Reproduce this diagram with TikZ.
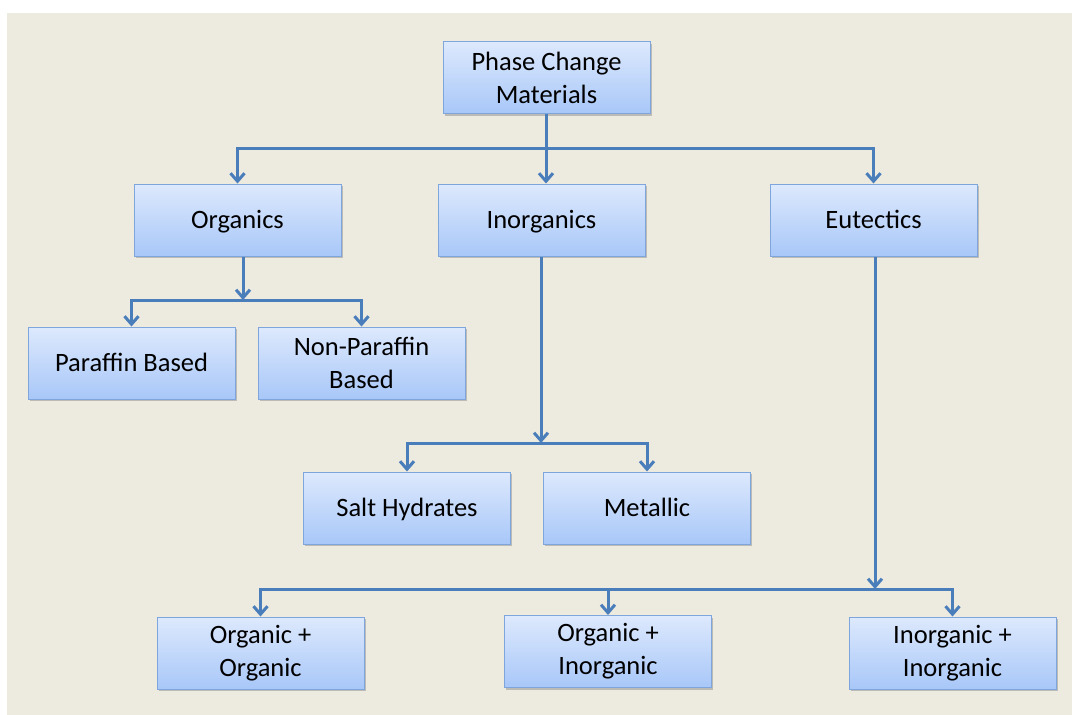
\documentclass[tikz,border=0pt]{standalone}
\usepackage{fontspec}
\setmainfont{Carlito}
\usetikzlibrary{arrows.meta,shadows}
\definecolor{bgc}{HTML}{EDEAE0}
\definecolor{linec}{HTML}{4A7EBB}
\definecolor{boxtop}{HTML}{DDE9FD}
\definecolor{boxbot}{HTML}{A8C7F8}
\definecolor{boxedge}{HTML}{7FA6DC}
\begin{document}
\begin{tikzpicture}[x=1pt,y=-1pt,
  box/.style={draw=boxedge, line width=1pt, top color=boxtop, bottom color=boxbot,
    minimum width=207pt, minimum height=72pt, inner sep=0pt, align=center,
    font=\fontsize{26.5}{33}\selectfont,
    drop shadow={shadow xshift=1.5pt, shadow yshift=-2pt, opacity=0.35, fill=black!60}},
  onebox/.style={box, text height=18pt, text depth=2pt},
  conn/.style={draw=linec, line width=3pt},
  arr/.style={conn, -{Straight Barb[length=8pt,width=14pt]}},
  both/.style={conn, {Straight Barb[length=8pt,width=14pt]}-{Straight Barb[length=8pt,width=14pt]}}
]
\useasboundingbox (0,0) rectangle (1072,715);
\fill[white] (0,0) rectangle (1072,715);
\fill[bgc] (7,13) rectangle (1072,715);

\node[box] (pcm) at (546.5,77.5) {Phase Change\\Materials};
\node[onebox] (org) at (237.5,220) {Organics};
\node[onebox] (inorg) at (541.5,220) {Inorganics};
\node[onebox] (eut) at (873.5,220) {Eutectics};
\node[onebox] (par) at (131.5,363) {Paraffin Based};
\node[box] (npar) at (361.5,363) {Non-Paraffin\\Based};
\node[onebox] (salt) at (407,508) {Salt Hydrates};
\node[onebox] (met) at (647,508) {Metallic};
\node[box] (oo) at (260.5,653) {Organic +\\Organic};
\node[box] (oi) at (608,651.5) {Organic +\\Inorganic};
\node[box] (ii) at (952.5,653) {Inorganic +\\Inorganic};

\coordinate (b1) at (546,148);
\coordinate (ob) at (243,300);
\coordinate (ib) at (541,443);
\coordinate (eb) at (875,589);

% top level
\draw[both] (org.north) |- (b1) -| (eut.north);
\draw[arr] (pcm.south -| b1) -- (b1 |- inorg.north);
% organics
\draw[arr] (org.south -| ob) -- (ob);
\draw[both] (par.north) |- (ob) -| (npar.north);
% inorganics
\draw[arr] (inorg.south -| ib) -- (ib);
\draw[both] (salt.north) |- (ib) -| (met.north);
% eutectics
\draw[arr] (eut.south -| eb) -- (eb);
\draw[both] (oo.north) |- (eb) -| (ii.north);
\draw[arr] (oi.north |- eb) -- (oi.north);
\end{tikzpicture}
\end{document}
